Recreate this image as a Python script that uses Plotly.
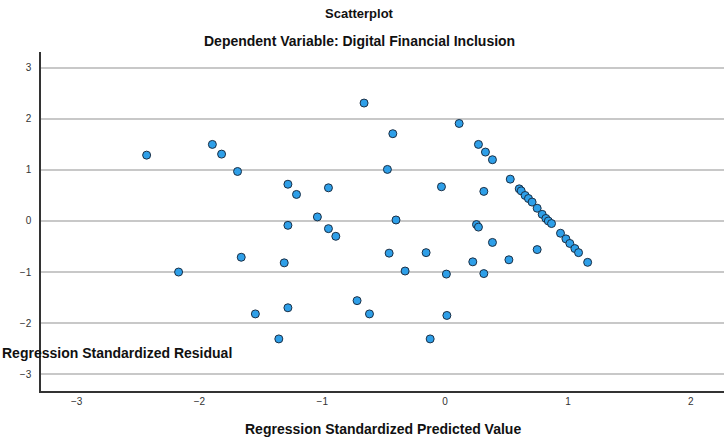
import plotly.graph_objects as go

predicted = [-2.43, -2.17, -1.895, -1.82, -1.69, -1.66, -1.545, -1.31, -1.28, -1.28,
             -1.28, -1.354, -1.21, -1.04, -0.95, -0.95, -0.89, -0.717, -0.66, -0.616,
             -0.47, -0.456, -0.426, -0.40, -0.326, -0.155, -0.122, -0.03, 0.01, 0.014,
             0.114, 0.225, 0.255, 0.271, 0.271, 0.315, 0.315, 0.328, 0.385, 0.385,
             0.519, 0.53, 0.603, 0.619, 0.651, 0.678, 0.708, 0.749, 0.749, 0.79,
             0.82, 0.84, 0.866, 0.939, 0.983, 1.015, 1.056, 1.086, 1.16]
residual = [1.29, -1.00, 1.50, 1.31, 0.97, -0.71, -1.82, -0.82, 0.72, -0.085,
            -1.70, -2.31, 0.52, 0.08, 0.65, -0.15, -0.30, -1.56, 2.31, -1.82,
            1.01, -0.63, 1.71, 0.02, -0.98, -0.62, -2.31, 0.67, -1.04, -1.85,
            1.91, -0.80, -0.07, -0.12, 1.50, 0.58, -1.03, 1.35, 1.20, -0.42,
            -0.76, 0.82, 0.63, 0.59, 0.50, 0.44, 0.37, 0.25, -0.56, 0.13,
            0.05, 0.0, -0.05, -0.24, -0.35, -0.44, -0.54, -0.62, -0.81]
x_ticks = [-3, -2, -1, 0, 1, 2]
y_ticks = [-3, -2, -1, 0, 1, 2, 3]

title = "Scatterplot"
subtitle = "Dependent Variable: Digital Financial Inclusion"
x_title = "Regression Standardized Predicted Value"
y_title = "Regression Standardized Residual"

font_family = "Liberation Sans, Arial, sans-serif"

fig = go.Figure()
fig.add_trace(go.Scatter(
    x=predicted, y=residual, mode="markers",
    marker=dict(size=8, color="#2e9fe8", line=dict(color="#1b2f45", width=1)),
    showlegend=False, hoverinfo="x+y",
))

fig.update_layout(
    width=725, height=437,
    margin=dict(l=41, r=1, t=52, b=46),
    paper_bgcolor="white", plot_bgcolor="white",
    font=dict(family=font_family, size=10, color="#333333"),
    xaxis=dict(
        range=[-3.29, 2.27], tickvals=x_ticks, showgrid=False, zeroline=False,
        showline=True, linecolor="#333333", linewidth=1.5,
        ticks="", ticklen=0, tickfont=dict(size=10, color="#333333"),
    ),
    yaxis=dict(
        range=[-3.33, 3.31], tickvals=y_ticks, showgrid=True, gridcolor="#c8c8c8",
        gridwidth=1.5, zeroline=False, showline=True, linecolor="#333333",
        linewidth=1.5, ticks="outside", ticklen=6, tickcolor="rgba(0,0,0,0)",
        tickfont=dict(size=10, color="#333333"),
    ),
    annotations=[
        dict(text="<b>" + title + "</b>", xref="paper", yref="paper",
             x=0.466, y=1, yshift=39, xanchor="center", yanchor="middle",
             showarrow=False, font=dict(size=13, color="#111111", family=font_family)),
        dict(text="<b>" + subtitle + "</b>", xref="paper", yref="paper",
             x=0.466, y=1, yshift=11, xanchor="center", yanchor="middle",
             showarrow=False, font=dict(size=14, color="#111111", family=font_family)),
        dict(text="<b>" + x_title + "</b>", xref="paper", yref="paper",
             x=0.5, y=0, yshift=-38, xanchor="center", yanchor="middle",
             showarrow=False, font=dict(size=14, color="#111111", family=font_family)),
        dict(text="<b>" + y_title + "</b>", xref="paper", yref="paper",
             x=0, xshift=-41, y=0, yshift=38, xanchor="left", yanchor="middle",
             showarrow=False, font=dict(size=14, color="#111111", family=font_family)),
    ],
)

fig.write_html("out.html")
